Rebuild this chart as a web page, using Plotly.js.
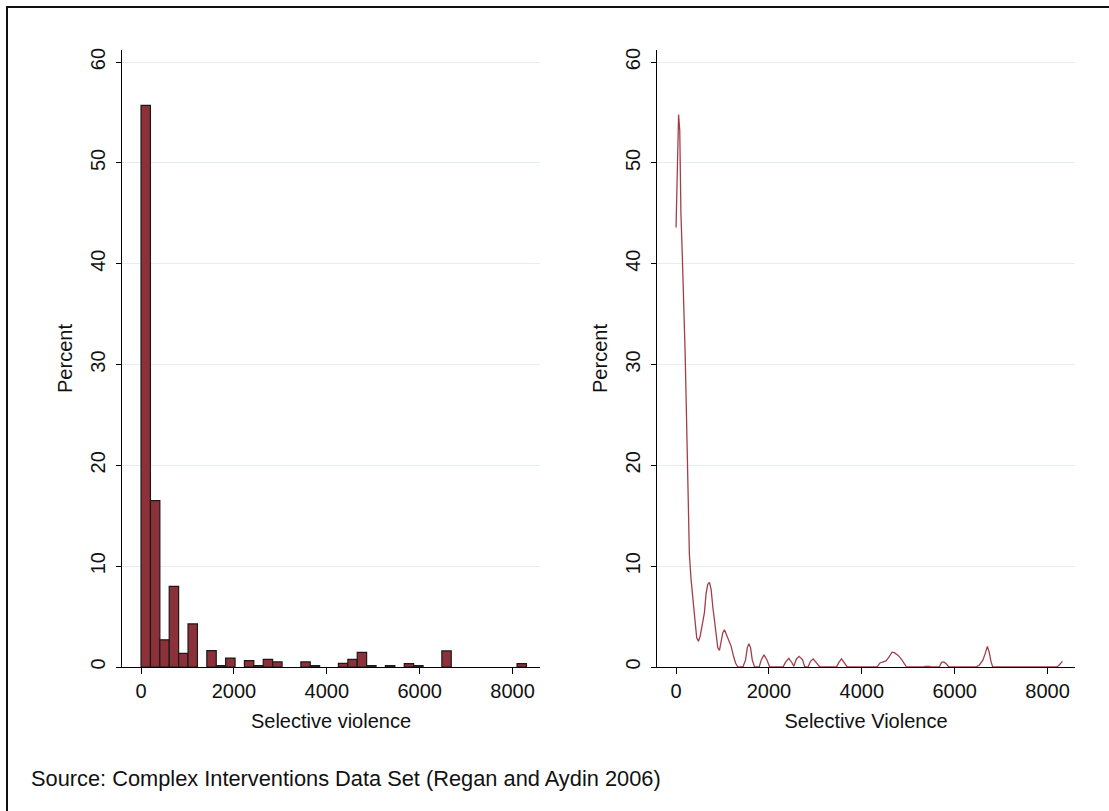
<!DOCTYPE html>
<html>
<head>
<meta charset="utf-8">
<script src="https://cdn.plot.ly/plotly-3.0.1.min.js"></script>
<style>
  html, body { margin: 0; padding: 0; background: #fff; }
  #chart { width: 1109px; height: 811px; }
</style>
</head>
<body>
<div id="chart"></div>
<script>
// ---- Data ----
// Histogram: bin centres (bin width ~202) and percent of observations
const binCenters = [101, 304, 506, 708, 911, 1113, 1518, 1720, 1923, 2327, 2530, 2732, 2935,
                    3542, 3744, 4351, 4554, 4756, 4959, 5363, 5768, 5971, 6578, 8197];
const binPercent = [55.7, 16.5, 2.7, 8.0, 1.36, 4.27, 1.62, 0.13, 0.89, 0.63, 0.13, 0.76, 0.5,
                    0.5, 0.13, 0.36, 0.76, 1.45, 0.13, 0.13, 0.33, 0.13, 1.59, 0.33];
const binWidth = 202.4;

// Kernel density curve (x = selective violence, y = percent scale)
const densX = [0, 15, 35, 55, 80, 105, 135, 165, 195, 225, 255, 287, 323, 359, 395, 417, 445, 481,
               517, 560, 611, 647, 683, 719, 755, 791, 827, 863, 899, 935, 971, 1007, 1043, 1079,
               1130, 1187, 1238, 1281, 1331, 1439, 1497, 1533, 1569, 1605, 1641, 1691, 1790, 1835,
               1893, 1958, 2016, 2304, 2355, 2427, 2499, 2535, 2592, 2650, 2722, 2772, 2844, 2894,
               2952, 3024, 3096, 3455, 3506, 3563, 3621, 3686, 4330, 4390, 4460, 4520, 4580, 4650,
               4700, 4783, 4855, 4905, 4963, 5340, 5358, 5466, 5480, 5667, 5717, 5768, 5826, 5870,
               5950, 5969, 6041, 6060, 6459, 6532, 6604, 6654, 6704, 6747, 6780, 6819, 8200, 8240, 8320];
const densY = [43.6, 47.9, 53.4, 54.8, 53.2, 45.0, 40.8, 36.6, 31.3, 24.9, 18.2, 11.2, 8.7, 6.7, 5.5, 4.2, 2.9, 2.55,
               3.0, 4.0, 5.4, 7.3, 8.2, 8.4, 7.7, 6.0, 4.4, 2.9, 1.9, 1.65, 2.7, 3.4, 3.7, 3.3,
               2.7, 2.05, 1.06, 0.4, 0, 0, 0.7, 1.9, 2.3, 1.9, 0.7, 0, 0, 0.7,
               1.2, 0.7, 0, 0, 0.46, 0.86, 0.4, 0.07, 0.8, 1.06, 0.73, 0, 0, 0.56,
               0.8, 0.4, 0, 0, 0.46, 0.8, 0.4, 0, 0, 0.4, 0.5, 0.6, 0.95, 1.47,
               1.42, 1.15, 0.75, 0.4, 0, 0, 0.07, 0.07, 0, 0, 0.46, 0.5, 0.28, 0,
               0, 0.07, 0.07, 0, 0, 0.2, 0.65, 1.3, 2.05, 1.39, 0.56, 0, 0, 0.15, 0.56];

const xTicks = [0, 2000, 4000, 6000, 8000];
const yTicks = [0, 10, 20, 30, 40, 50, 60];
const xTitleLeft = 'Selective violence';
const xTitleRight = 'Selective Violence';
const yTitle = 'Percent';
const sourceNote = 'Source: Complex Interventions Data Set (Regan and Aydin 2006)';

// ---- Styling ----
const FONT = 'Liberation Sans, Arial, Helvetica, sans-serif';
const TXT = '#111111';
const W = 1109, H = 811;
const px = v => v / W;
const py = v => 1 - v / H;

const xBase = {
  range: [-410, 8590], tickvals: xTicks, ticktext: xTicks.map(String),
  ticks: 'outside', ticklen: 6, tickwidth: 1, tickcolor: '#000',
  showline: true, linecolor: '#000', linewidth: 1,
  showgrid: false, zeroline: false, fixedrange: true,
  tickfont: { family: FONT, size: 20, color: TXT }
};
const yBase = {
  range: [0, 61.2], tickvals: yTicks, ticktext: yTicks.map(String),
  ticks: 'outside', ticklen: 5, tickwidth: 1, tickcolor: '#000', tickangle: -90,
  ticklabelstandoff: 3,
  showline: true, linecolor: '#000', linewidth: 1,
  showgrid: true, gridcolor: '#e6eef0', gridwidth: 1, zeroline: false, fixedrange: true,
  tickfont: { family: FONT, size: 20, color: TXT },
  domain: [py(667), py(50)]
};

const traces = [
  {
    type: 'bar', x: binCenters, y: binPercent, width: binWidth,
    marker: { color: '#8c3039', line: { color: '#1a1a1a', width: 1.2 } },
    xaxis: 'x', yaxis: 'y', hoverinfo: 'x+y'
  },
  {
    type: 'scatter', mode: 'lines', x: densX, y: densY,
    line: { color: '#a33e48', width: 1.3 },
    xaxis: 'x2', yaxis: 'y2', hoverinfo: 'x+y'
  }
];

const layout = {
  width: W, height: H,
  margin: { l: 0, r: 0, t: 0, b: 0, pad: 0 },
  paper_bgcolor: '#ffffff', plot_bgcolor: '#ffffff',
  showlegend: false, bargap: 0,
  font: { family: FONT, size: 20, color: TXT },
  xaxis: Object.assign({}, xBase, {
    domain: [px(122), px(540)], anchor: 'y',
    title: { text: xTitleLeft, font: { family: FONT, size: 20, color: TXT }, standoff: 12 }
  }),
  yaxis: Object.assign({}, yBase, {
    anchor: 'x',
    title: { text: yTitle, font: { family: FONT, size: 20, color: TXT }, standoff: 9 }
  }),
  xaxis2: Object.assign({}, xBase, {
    domain: [px(657), px(1075)], anchor: 'y2',
    title: { text: xTitleRight, font: { family: FONT, size: 20, color: TXT }, standoff: 12 }
  }),
  yaxis2: Object.assign({}, yBase, {
    anchor: 'x2',
    title: { text: yTitle, font: { family: FONT, size: 20, color: TXT }, standoff: 9 }
  }),
  annotations: [{
    text: sourceNote, xref: 'paper', yref: 'paper', x: px(29), y: py(778),
    xanchor: 'left', yanchor: 'middle', showarrow: false,
    font: { family: FONT, size: 21.8, color: TXT }
  }],
  shapes: [{
    type: 'rect', xref: 'paper', yref: 'paper',
    x0: px(7), x1: px(1125), y0: py(830), y1: py(7),
    line: { color: '#111', width: 2 }, fillcolor: 'rgba(0,0,0,0)', layer: 'below'
  }]
};

Plotly.newPlot('chart', traces, layout, { displayModeBar: false, staticPlot: true });
</script>
</body>
</html>
